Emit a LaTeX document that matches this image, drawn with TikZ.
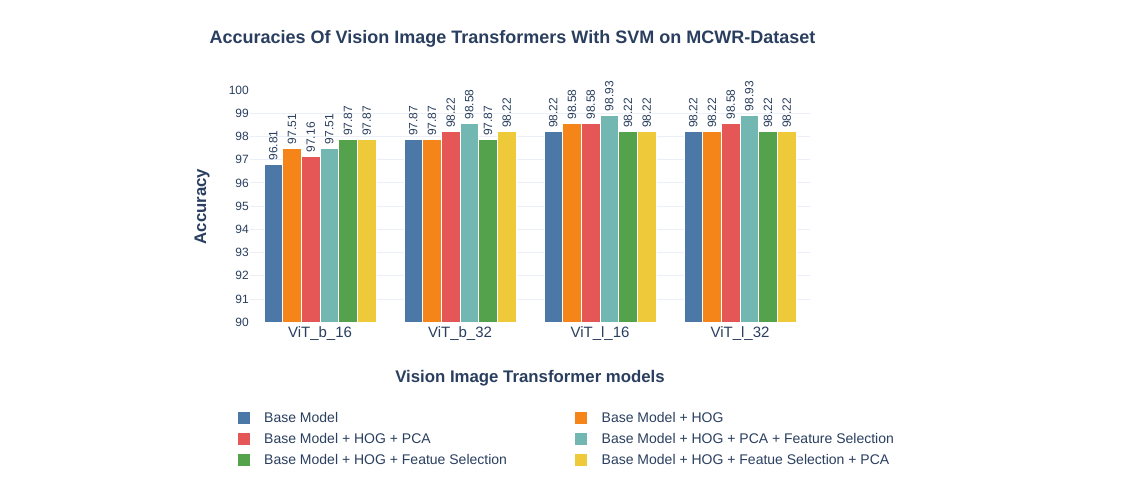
\documentclass[tikz,border=0pt]{standalone}
\usepackage{fontspec}
\setmainfont{Liberation Sans}

\definecolor{txtcol}{HTML}{2A3F5F}
\definecolor{gridcol}{HTML}{EBF0F8}
\definecolor{bar0}{HTML}{4C78A8}
\definecolor{bar1}{HTML}{F58518}
\definecolor{bar2}{HTML}{E45756}
\definecolor{bar3}{HTML}{72B7B2}
\definecolor{bar4}{HTML}{54A24B}
\definecolor{bar5}{HTML}{EECA3B}

\begin{document}
\begin{tikzpicture}[x=1pt, y=-1pt,
    gridline/.style={draw=gridcol, line width=1pt},
    barbox/.style={draw=white, line width=0.5pt},
    ticklabel/.style={text=txtcol, anchor=east, inner sep=0pt, font=\fontsize{12}{14}\selectfont},
    vallabel/.style={text=txtcol, rotate=90, anchor=west, inner sep=0pt, font=\fontsize{12}{14}\selectfont},
    catlabel/.style={text=txtcol, inner sep=0pt, font=\fontsize{15}{18}\selectfont},
    axtitle/.style={text=txtcol, inner sep=0pt, font=\bfseries\fontsize{16.8}{20}\selectfont},
    legkey/.style={minimum size=12pt, inner sep=0pt},
    legtext/.style={text=txtcol, anchor=west, inner sep=0pt, font=\fontsize{14}{17}\selectfont}]

    \useasboundingbox[fill=white] (0,0) rectangle (1139,476);

    % title
    \node[text=txtcol, font=\bfseries\fontsize{18}{22}\selectfont] (title) at (512.5,39)
      {Accuracies Of Vision Image Transformers With SVM on MCWR-Dataset};

    % grid and y ticks
    \foreach \t in {91,...,99}
      \draw[gridline] (250,{322.3-(\t-90)*23.22}) -- (810,{322.3-(\t-90)*23.22});
    \foreach \t in {90,...,100}
      \node[ticklabel] (tick\t) at (249,{322.3-(\t-90)*23.22}) {\t};

    % bars
    \foreach \g/\c/\cat/\vals in {
        1/320/ViT\_b\_16/{96.81,97.51,97.16,97.51,97.87,97.87},
        2/460/ViT\_b\_32/{97.87,97.87,98.22,98.58,97.87,98.22},
        3/600/ViT\_l\_16/{98.22,98.58,98.58,98.93,98.22,98.22},
        4/740/ViT\_l\_32/{98.22,98.22,98.58,98.93,98.22,98.22}}{
      \foreach \v [count=\i from 0] in \vals {
        \pgfmathsetmacro\xl{\c-56+\i*18.667}
        \pgfmathsetmacro\yt{322.3-(\v-90)*23.22}
        \filldraw[barbox, fill=bar\i] (\xl,\yt) rectangle (\xl+18.667,322.3);
        \node[vallabel] (val\g-\i) at (\xl+9.33,\yt-3.5) {\v};
      }
      \node[catlabel] (cat\g) at (\c,333.5) {\cat};
    }

    % axis titles
    \node[axtitle, rotate=90] (ytitle) at (202,206.5) {Accuracy};
    \node[axtitle] (xtitle) at (530,378.5) {Vision Image Transformer models};

    % legend
    \foreach \lx/\ly/\lbl [count=\k from 0] in {
        243.5/417.5/Base Model,
        581/417.5/Base Model + HOG,
        243.5/438.5/Base Model + HOG + PCA,
        581/438.5/Base Model + HOG + PCA + Feature Selection,
        243.5/459.5/Base Model + HOG + Featue Selection,
        581/459.5/Base Model + HOG + Featue Selection + PCA}{
      \node[legkey, fill=bar\k] (key\k) at (\lx,\ly) {};
      \node[legtext] (leg\k) at (\lx+20.5,\ly) {\lbl};
    }

\end{tikzpicture}
\end{document}
